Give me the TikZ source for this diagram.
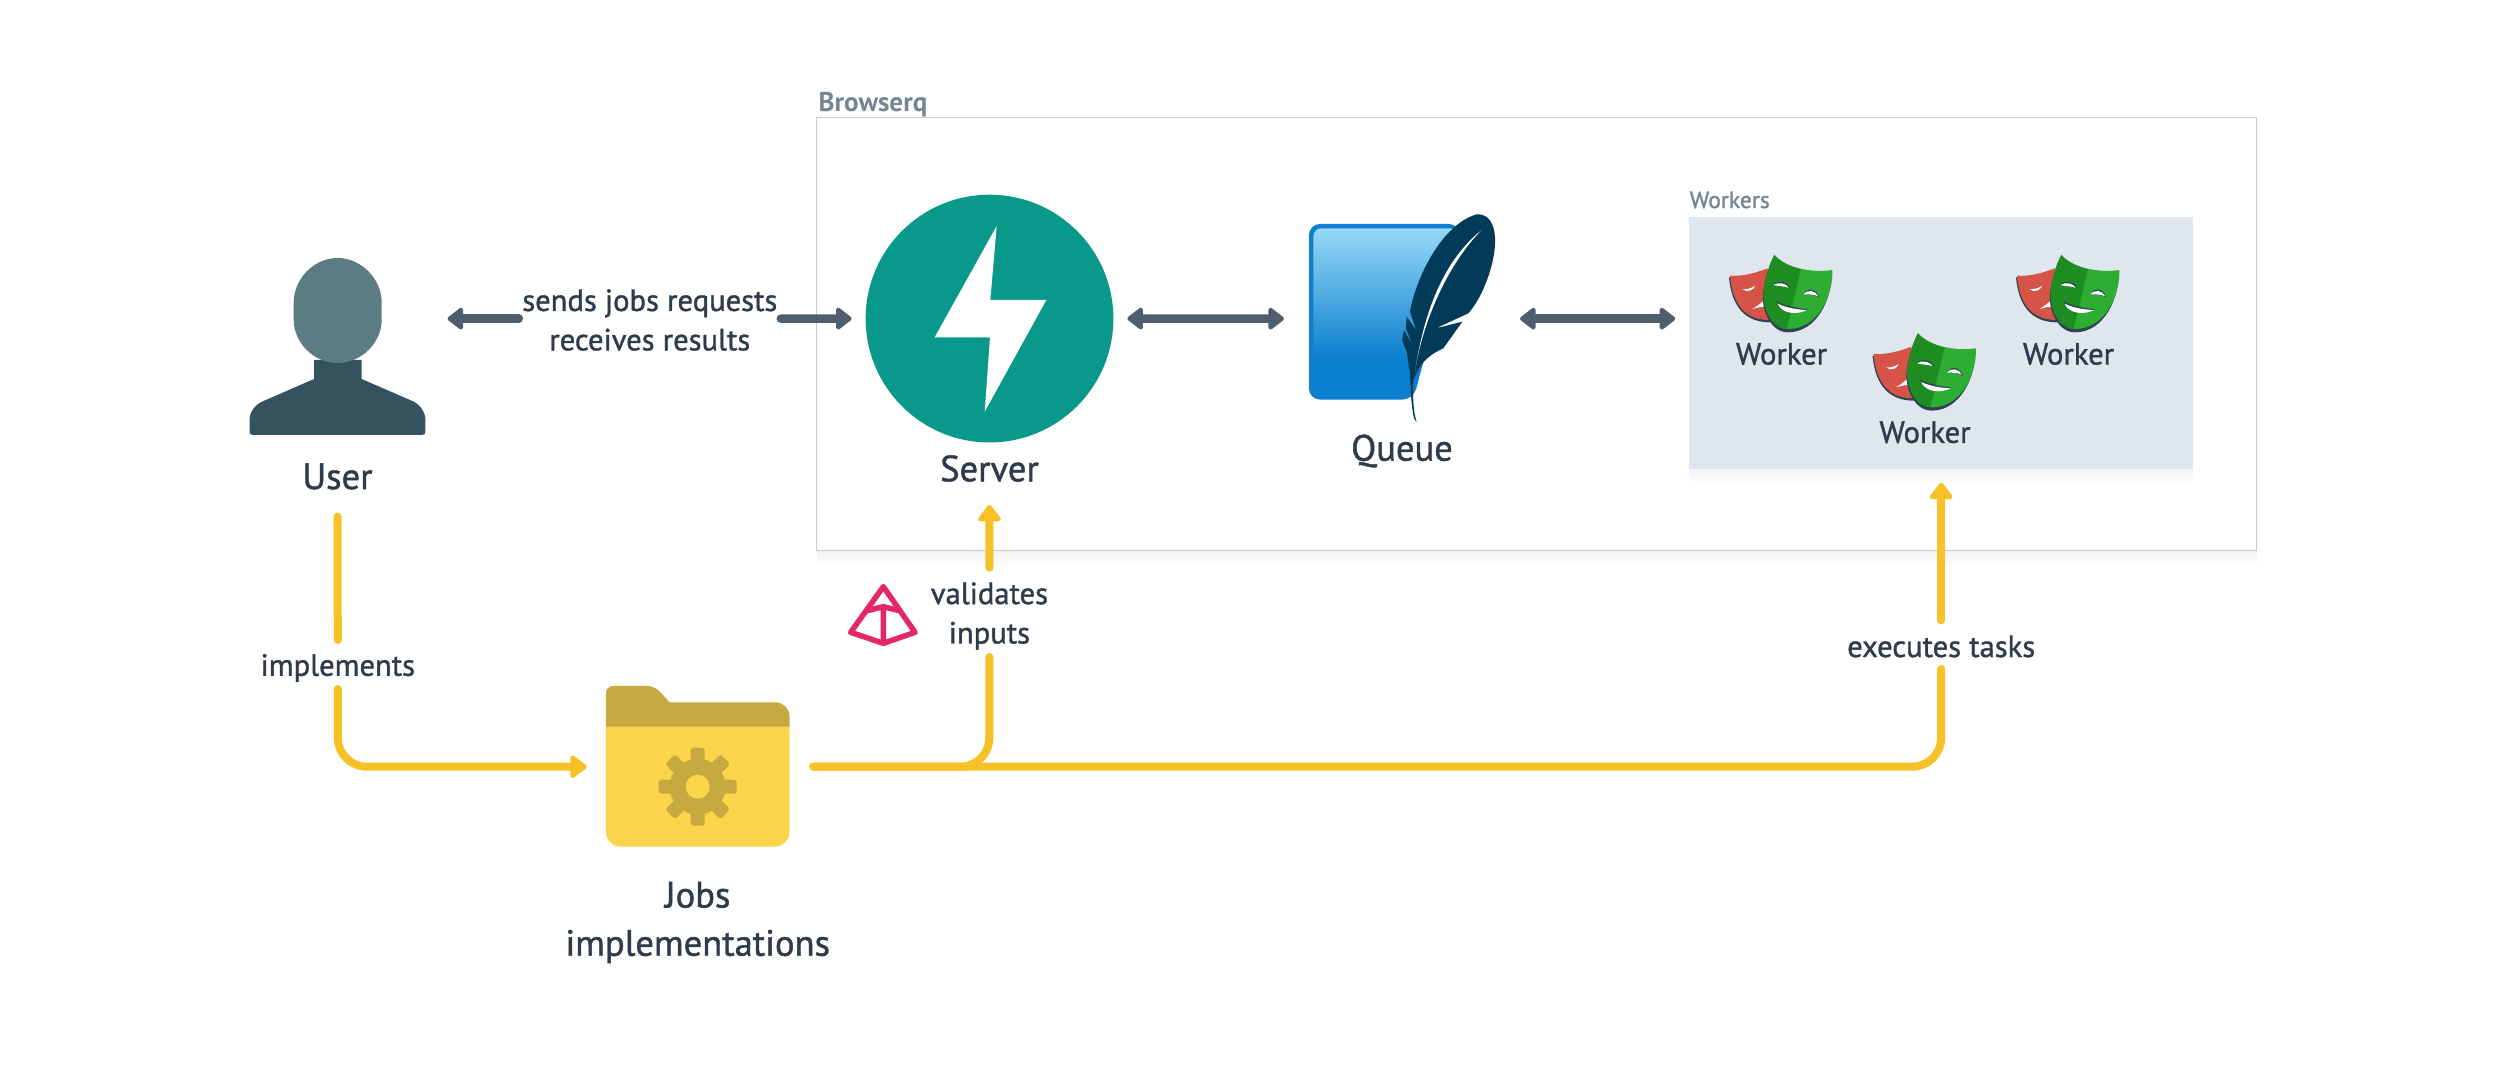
\documentclass[tikz,border=0pt]{standalone}
\usepackage{fontspec}
\setmainfont[UprightFeatures={FakeBold=1.2}]{PT Sans}
\usetikzlibrary{arrows.meta}
\definecolor{inkblue}{HTML}{2D3B4A}
\definecolor{titlegrey}{HTML}{768594}
\definecolor{framegrey}{HTML}{CBCBCB}
\definecolor{workerbg}{HTML}{DFE6EE}
\definecolor{slatearrow}{HTML}{4E5E6E}
\definecolor{flowyellow}{HTML}{F6C126}
\definecolor{fastteal}{HTML}{08998A}
\definecolor{userhead}{HTML}{5C7C84}
\definecolor{userbody}{HTML}{34535F}
\definecolor{folderband}{HTML}{C6A93F}
\definecolor{folderbody}{HTML}{FBD44C}
\definecolor{sqlouter}{HTML}{0C7FCF}
\definecolor{sqlinner}{HTML}{97D9F6}
\definecolor{sqlfeather}{HTML}{023A59}
\definecolor{pydpink}{HTML}{E6266B}
\definecolor{maskred}{HTML}{D65348}
\definecolor{maskdark}{HTML}{2D4552}
\definecolor{maskgreen}{HTML}{2EAD33}
\definecolor{maskgreendark}{HTML}{1D8D22}
\tikzstyle{icon} = [rectangle, inner sep=0pt]
\tikzstyle{bigtext} = [inner sep=0pt, text=inkblue, align=center,
    font=\fontsize{10.4}{13.7}\selectfont]
\tikzstyle{smalltext} = [inner sep=0pt, text=inkblue, align=center,
    font=\fontsize{8.7}{11.2}\selectfont]
\tikzstyle{flow} = [draw=flowyellow, line width=.08cm, line cap=round, rounded corners=.29cm]
\tikzstyle{flowtip} = [flow, -{Triangle[length=.18cm,width=.26cm,round]}]
\tikzstyle{call} = [draw=slatearrow, line width=.085cm, line cap=round,
    -{Triangle[length=.17cm,width=.25cm,round]}]
\tikzstyle{bothcall} = [call, {Triangle[length=.17cm,width=.25cm,round]}-{Triangle[length=.17cm,width=.25cm,round]}]
\tikzset{
  maskicon/.pic={
    % Red mask
    \fill[maskdark] (42,97) .. controls (80,100) and (120,90) .. (158,75) -- (165,232) .. controls (120,232) and (52,215) .. (42,97);
    \fill[maskred] (45,92) .. controls (80,95) and (120,85) .. (158,70) -- (165,225) .. controls (120,225) and (55,210) .. (45,92);
    \fill[white] (82,132) .. controls (95,134) and (110,130) .. (120,122) .. controls (118,135) and (95,145) .. (82,132);
    \fill[white] (112,192) .. controls (125,185) and (138,175) .. (150,163) -- (150,185) .. controls (135,185) and (122,190) .. (112,192);
    % Green mask
    \fill[maskdark] (175,38) .. controls (207,73) and (277,93) .. (349,83) .. controls (352,158) and (307,262) .. (219,262) .. controls (162,263) and (132,178) .. (147,128) .. controls (152,93) and (162,63) .. (175,38);
    \fill[maskgreen] (178,30) .. controls (210,65) and (280,85) .. (352,75) .. controls (355,150) and (310,250) .. (222,252) .. controls (165,255) and (135,170) .. (150,120) .. controls (155,85) and (165,55) .. (178,30);
    \fill[maskgreendark] (178,30) .. controls (195,50) and (225,66) .. (258,73) -- (215,252) .. controls (163,250) and (135,170) .. (150,120) .. controls (155,85) and (165,55) .. (178,30);
    \fill[maskdark] (174,118) .. controls (195,104) and (218,110) .. (226,130) .. controls (212,122) and (195,120) .. (174,118);
    \fill[white] (175,120) .. controls (190,110) and (212,114) .. (222,128) .. controls (208,124) and (192,124) .. (175,120);
    \fill[maskdark] (264,148) .. controls (280,126) and (303,130) .. (314,158) .. controls (300,150) and (280,148) .. (264,148);
    \fill[white] (265,148) .. controls (280,132) and (300,136) .. (310,154) .. controls (296,148) and (280,148) .. (265,148);
    \fill[maskdark] (184,168) .. controls (210,182) and (245,190) .. (278,192) .. controls (255,210) and (198,210) .. (184,168);
    \fill[white] (188,176) .. controls (212,188) and (245,194) .. (276,195) .. controls (250,210) and (200,208) .. (188,176);
  }
}

\begin{document}
\begin{tikzpicture}[x=.01cm, y=-.01cm]
    \useasboundingbox (0,0) rectangle (2500,1080);
    % Frame
    \shade[top color=black!5, bottom color=white] (817,550) rectangle (2257,566);
    \node [rectangle, draw=framegrey, fill=white, line width=.012cm, inner sep=0pt,
        minimum width=14.39cm, minimum height=4.32cm] (Browserq) at (1536.8,334) {};
    \node [inner sep=0pt, anchor=south west, text=titlegrey, font=\fontsize{7.7}{9}\selectfont\bfseries] (BrowserqTitle) at (818,117.5) {Browserq};

    % Workers
    \shade[top color=black!5, bottom color=white] (1690,468) rectangle (2193,484);
    \node [rectangle, fill=workerbg, inner sep=0pt, outer sep=.14cm,
        minimum width=5.036cm, minimum height=2.52cm] (Workers) at (1941.2,342.7) {};
    \node [inner sep=0pt, anchor=south west, text=titlegrey, font=\fontsize{6.7}{8}\selectfont] (WorkersTitle) at (1689,209) {Workers};
    \pic[scale=.3333] at (1715,245) {maskicon};
    \pic[scale=.3333] at (2002,245) {maskicon};
    \pic[scale=.3333] at (1858.6,323.3) {maskicon};
    \node [smalltext] (WorkerA) at (1781.5,354) {Worker};
    \node [smalltext] (WorkerB) at (2068.5,354) {Worker};
    \node [smalltext] (WorkerC) at (1925,432.3) {Worker};

    % User
    \node [icon, minimum width=1.76cm, minimum height=1.77cm, outer sep=.22cm] (User) at (337.5,318.7) {};
    \fill[userbody] (314,360) -- (361.6,360) -- (361.6,379) -- (414,401.7) .. controls (420,405) and (425.4,412) .. (425.4,420) -- (425.4,432) .. controls (425.4,434) and (424,435) .. (422,435) -- (253,435) .. controls (251,435) and (249.5,434) .. (249.5,432) -- (249.5,420) .. controls (249.5,412) and (255,405) .. (262,401.7) -- (314,379) -- cycle;
    \fill[userhead] (337.7,258) .. controls (362,258) and (381.7,280) .. (381.7,302) -- (381.7,320) .. controls (381.7,342) and (362,363) .. (337.7,363) .. controls (313,363) and (293.7,342) .. (293.7,320) -- (293.7,302) .. controls (293.7,280) and (313,258) .. (337.7,258) -- cycle;
    \node [bigtext] (UserName) at (337.5,476.5) {User};
    \coordinate (UserFoot) at (337.5,516.7);

    % Server
    \node [circle, fill=fastteal, inner sep=0pt, outer sep=.14cm, minimum size=2.476cm] (Server) at (989.5,318.6) {};
    \fill[white] (996.7,226) -- (990.3,300) -- (1046.3,300) -- (984.7,411.7) -- (990,337.3) -- (934.7,337.3) -- cycle;
    \node [bigtext] (ServerName) at (989.5,468.5) {Server};
    \coordinate (ServerFoot) at (989.5,505);

    % Queue
    \node [icon, minimum width=1.86cm, minimum height=2cm, outer sep=.25cm] (Queue) at (1402,318.7) {};
    \begin{scope}[shift={(1300,205)}, scale=.3333]
        \fill[sqlouter, rounded corners=.11cm] (27,57) -- (480,57) -- (340,584) -- (27,584) -- cycle;
        \shade[top color=sqlinner, bottom color=sqlouter, rounded corners=.08cm] (40,70) -- (475,70) -- (370,460) -- (40,460) -- cycle;
        \fill[sqlfeather] (530,28) .. controls (575,25) and (592,75) .. (583,140) .. controls (575,200) and (545,280) .. (505,325) -- (408,370) -- (487,350) -- (430,430) .. controls (395,445) and (365,470) .. (352,500) -- (340,525) .. controls (338,580) and (340,620) .. (350,652) -- (342,640) .. controls (333,600) and (332,550) .. (330,505) -- (320,440) -- (306,405) -- (312,375) -- (337,420) -- (318,370) -- (320,335) -- (348,375) -- (330,320) .. controls (345,230) and (420,60) .. (530,28) -- cycle;
        \fill[white] (545,75) .. controls (440,160) and (375,300) .. (345,500) .. controls (365,360) and (440,180) .. (545,75) -- cycle;
    \end{scope}
    \node [bigtext] (QueueName) at (1402,451) {Queue};

    % Jobs
    \node [icon, minimum width=2.25cm, minimum height=1.6cm] (Jobs) at (700,766.7) {};
    \fill[folderbody, rounded corners=.15cm] (605.9,715) -- (789.5,715) -- (789.5,846.7) -- (605.9,846.7) -- cycle;
    \fill[folderband, rounded corners=.07cm] (605.9,726.7) -- (605.9,686) -- (654.6,686) [sharp corners] -- (669.6,702.3) [rounded corners=.14cm] -- (789.5,702.3) [sharp corners] -- (789.5,726.7) -- cycle;
    \begin{scope}[shift={(697.7,786.7)}]
        \fill[folderband] (0,0) circle [radius=28];
        \foreach \a in {0,45,...,315}
            \fill[folderband, rotate=\a, rounded corners=.03cm] (20,-7) -- (39,-7) -- (39,7) -- (20,7) -- cycle;
        \fill[folderbody] (0,0) circle [radius=12];
    \end{scope}
    \node [bigtext] (JobsName) at (697.7,922.5) {Jobs\\implementations};

    % Pydantic logo
    \begin{scope}[shift={(835,570)}, scale=.3333]
        \draw[pydpink, line width=.055cm, line join=round] (145,50) -- (240,187) -- (145,220) -- (47,187) -- cycle;
        \draw[pydpink, line width=.055cm, line join=round] (97,122) -- (145,110) -- (192,122) (145,110) -- (145,220);
    \end{scope}

    % Edge labels
    \node [smalltext, minimum width=2.604cm] (Requests) at (649.8,320) {sends jobs requests\\receives results};
    \node [smalltext] (Implements) at (337.8,668) {implements};
    \node [smalltext] (Validates) at (989.4,616) {validates\\inputs};
    \node [smalltext] (Executes) at (1941.2,646.5) {executes tasks};
    \coordinate (ImplementsTop) at (337.8,640);
    \coordinate (ImplementsFoot) at (337.8,689);
    \coordinate (ValidatesTop) at (989.4,567.7);
    \coordinate (ValidatesFoot) at (989.4,657);
    \coordinate (ExecutesTop) at (1941.2,620.3);
    \coordinate (ExecutesFoot) at (1941.2,669);

    % Draw edges
    \draw[call] (Requests.west |- Queue.west) -- (User.east);
    \draw[call] (Requests.east |- Queue.west) -- (Server.west);
    \draw[bothcall] (Server.east) -- (Queue.west);
    \draw[bothcall] (Queue.east) -- (Queue.east -| Workers.west);

    \draw[flow] (UserFoot) -- (ImplementsTop);
    \draw[flowtip] (ImplementsFoot) |- (Jobs.west);
    \draw[flow] (Jobs.east) -| (ValidatesFoot);
    \draw[flowtip] (ValidatesTop) -- (ServerFoot);
    \draw[flow] (Jobs.east) -| (ExecutesFoot);
    \draw[flowtip] (ExecutesTop) -- (Workers.south);
\end{tikzpicture}
\end{document}
